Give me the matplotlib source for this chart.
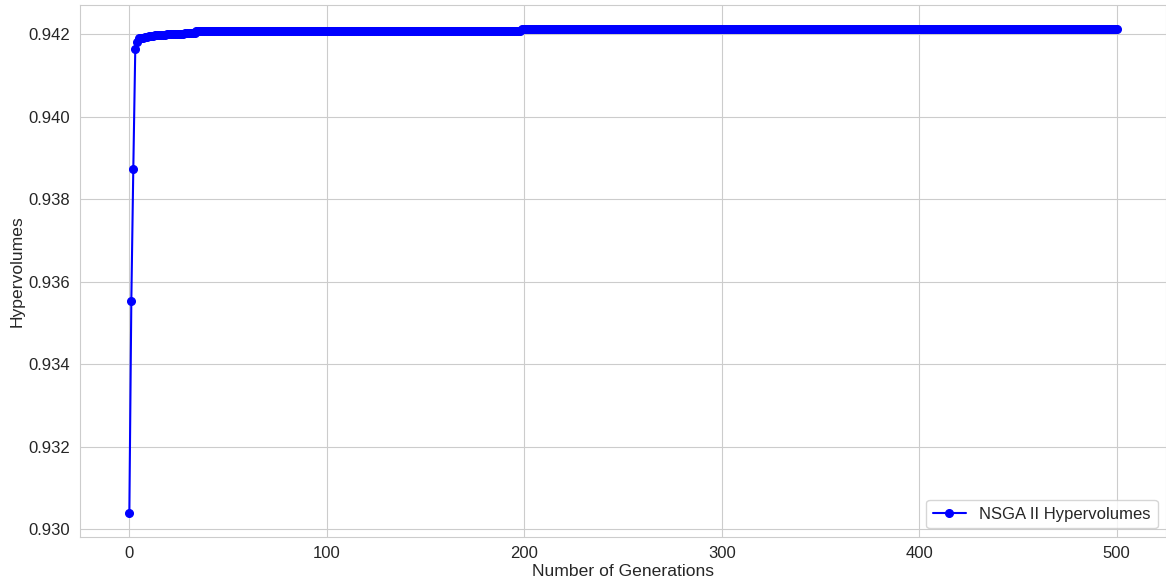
import numpy as np
import matplotlib
matplotlib.use('Agg')
import matplotlib.pyplot as plt
import seaborn as sns

sns.set_style('whitegrid')
plt.rcParams['font.family'] = ['Liberation Sans', 'DejaVu Sans']

# hypervolume per generation, first 34 generations read one by one
early_hv = [0.93040, 0.93554, 0.93874, 0.94164, 0.94182, 0.94190, 0.94191,
            0.94192, 0.94193, 0.94194, 0.94195, 0.94196, 0.94196, 0.94197,
            0.94198, 0.94198, 0.94199, 0.94199, 0.94199, 0.94200, 0.94200,
            0.94200, 0.94200, 0.94201, 0.94201, 0.94201, 0.94201, 0.94201,
            0.94202, 0.94202, 0.94202, 0.94202, 0.94202, 0.94202]
# after that the front barely moves: two flat stretches
plateau_hv = [0.94209, 0.94213]
plateau_len = [165, 302]

hv = np.concatenate([early_hv, np.repeat(plateau_hv, plateau_len)])
gens = np.arange(len(hv))

fig, ax = plt.subplots(figsize=(11.66, 5.86), dpi=100)
ax.plot(gens, hv, color='blue', marker='o', markersize=5.5, linewidth=1.5,
        label='NSGA II Hypervolumes')
ax.set_xlabel('Number of Generations', fontsize=12.6, labelpad=2)
ax.set_ylabel('Hypervolumes', fontsize=12.6, labelpad=3)
ax.tick_params(labelsize=12)
ax.legend(loc='lower right', fontsize=12)
plt.subplots_adjust(left=0.0686, right=1.0, top=0.992, bottom=0.084)
plt.savefig('out.png', dpi=100)
